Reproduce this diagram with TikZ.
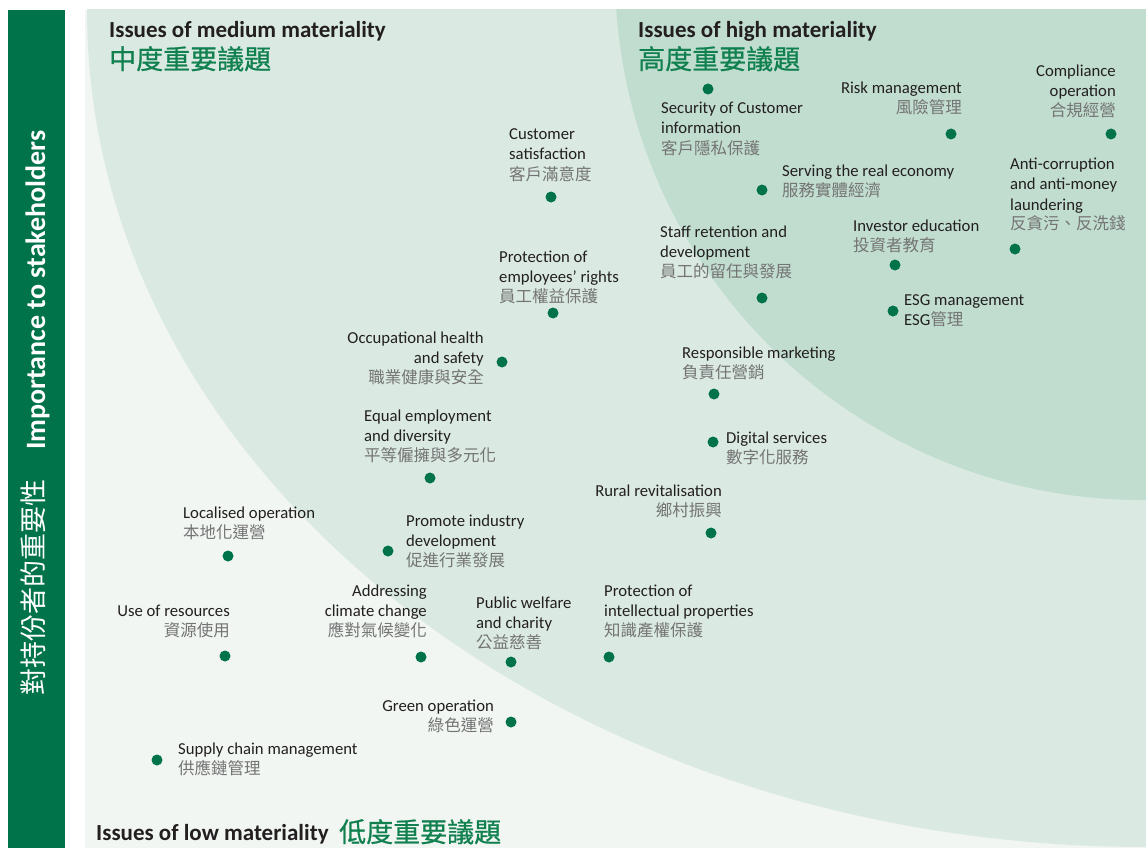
\documentclass[tikz,border=0pt]{standalone}
\usepackage{fontspec}
\setmainfont{Carlito}
\newfontfamily\cjk{Noto Sans CJK TC}
\newfontfamily\cjkhead[FakeBold=0.7]{Noto Sans CJK TC}
\definecolor{barg}{HTML}{00734A}
\definecolor{dotg}{HTML}{00734A}
\definecolor{headg}{HTML}{10804F}
\definecolor{basec}{HTML}{F1F6F2}
\definecolor{medc}{HTML}{DAEAE2}
\definecolor{highc}{HTML}{C1DDD0}
\definecolor{txt}{HTML}{231F20}
\definecolor{zhgray}{HTML}{747474}
\newcommand\zh[1]{{\cjk\fontsize{16.5}{20}\selectfont\color{zhgray}#1}}
\newcommand\tl[1]{\begin{tabular}[t]{@{}l@{}}#1\end{tabular}}
\newcommand\tr[1]{\begin{tabular}[t]{@{}r@{}}#1\end{tabular}}
\tikzset{
  lbl/.style={inner sep=0pt, font=\fontsize{16.7}{20}\selectfont, text=txt},
  lbll/.style={lbl, anchor=base west},
  lblr/.style={lbl, anchor=base east},
  issuedot/.style={circle, fill=dotg, minimum size=11pt, inner sep=0pt},
  headen/.style={inner sep=0pt, anchor=base west, text=txt, font=\bfseries\fontsize{23}{26}\selectfont},
  headzh/.style={inner sep=0pt, anchor=base west, text=headg, font=\cjkhead\fontsize{27}{30}\selectfont},
}
\begin{document}
\begin{tikzpicture}[x=1pt,y=-1pt]
\useasboundingbox (0,0) rectangle (1146,848);
\fill[white] (0,0) rectangle (1146,848);
% left bar
\fill[barg] (8,10) rectangle (65,848);
\node[rotate=90, anchor=base west, inner sep=0pt, text=white, font=\bfseries\fontsize{28}{32}\selectfont] (yen) at (45,450) {Importance to stakeholders};
\node[rotate=90, anchor=west, inner sep=0pt, text=white, font=\cjk\fontsize{27}{30}\selectfont] (yzh) at (33,696) {對持份者的重要性};
% panel
\fill[basec] (85,10) rectangle (1146,848);
\begin{scope}
\clip (85,10) rectangle (1146,848);
\fill[medc] (1146,10) ellipse [x radius=1059pt, y radius=837pt];
\fill[highc] (1142,-27) circle [radius=527pt];
\end{scope}
% headings
\node[headen] (hmed) at (109,38) {Issues of medium materiality};
\node[headzh] (hmedzh) at (109,69) {中度重要議題};
\node[headen] (hhigh) at (638,38) {Issues of high materiality};
\node[headzh] (hhighzh) at (638,69) {高度重要議題};
\node[headen] (hlow) at (96,840) {Issues of low materiality};
\node[headzh] (hlowzh) at (339,842) {低度重要議題};
% issues
\node[lbll] (l1) at (661,114) {\tl{Security of Customer\\information\\\zh{客戶隱私保護}}};
\node[issuedot] (d1) at (708,89) {};
\node[lblr] (l2) at (962,94) {\tr{Risk management\\\zh{風險管理}}};
\node[issuedot] (d2) at (951,134) {};
\node[lblr] (l3) at (1116,77) {\tr{Compliance\\operation\\\zh{合規經營}}};
\node[issuedot] (d3) at (1111,134) {};
\node[lbll] (l4) at (509,140) {\tl{Customer\\satisfaction\\\zh{客戶滿意度}}};
\node[issuedot] (d4) at (551,197) {};
\node[lbll] (l5) at (782,176) {\tl{Serving the real economy\\\zh{服務實體經濟}}};
\node[issuedot] (d5) at (762,190) {};
\node[lbll] (l6) at (1010,170) {\tl{Anti-corruption\\and anti-money\\laundering\\\zh{反貪污、反洗錢}}};
\node[issuedot] (d6) at (1015,249) {};
\node[lbll] (l7) at (660,237) {\tl{Staff retention and\\development\\\zh{員工的留任與發展}}};
\node[issuedot] (d7) at (762,298) {};
\node[lbll] (l8) at (853,231) {\tl{Investor education\\\zh{投資者教育}}};
\node[issuedot] (d8) at (895,265) {};
\node[lbll] (l9) at (499,262) {\tl{Protection of\\employees’ rights\\\zh{員工權益保護}}};
\node[issuedot] (d9) at (553,313) {};
\node[lbll] (l10) at (904,305) {\tl{ESG management\\ESG\zh{管理}}};
\node[issuedot] (d10) at (893,311) {};
\node[lblr] (l11) at (484,343) {\tr{Occupational health\\and safety\\\zh{職業健康與安全}}};
\node[issuedot] (d11) at (502,362) {};
\node[lbll] (l12) at (682,358) {\tl{Responsible marketing\\\zh{負責任營銷}}};
\node[issuedot] (d12) at (714,394) {};
\node[lbll] (l13) at (364,421) {\tl{Equal employment\\and diversity\\\zh{平等僱擁與多元化}}};
\node[issuedot] (d13) at (430,478) {};
\node[lbll] (l14) at (726,443) {\tl{Digital services\\\zh{數字化服務}}};
\node[issuedot] (d14) at (713,442) {};
\node[lblr] (l15) at (722,496) {\tr{Rural revitalisation\\\zh{鄉村振興}}};
\node[issuedot] (d15) at (711,533) {};
\node[lbll] (l16) at (183,518) {\tl{Localised operation\\\zh{本地化運營}}};
\node[issuedot] (d16) at (228,556) {};
\node[lbll] (l17) at (406,526) {\tl{Promote industry\\development\\\zh{促進行業發展}}};
\node[issuedot] (d17) at (388,551) {};
\node[lblr] (l18) at (230,616) {\tr{Use of resources\\\zh{資源使用}}};
\node[issuedot] (d18) at (225,656) {};
\node[lblr] (l19) at (427,596) {\tr{Addressing\\climate change\\\zh{應對氣候變化}}};
\node[issuedot] (d19) at (421,657) {};
\node[lbll] (l20) at (476,608) {\tl{Public welfare\\and charity\\\zh{公益慈善}}};
\node[issuedot] (d20) at (511,662) {};
\node[lbll] (l21) at (604,596) {\tl{Protection of\\intellectual properties\\\zh{知識產權保護}}};
\node[issuedot] (d21) at (609,657) {};
\node[lblr] (l22) at (494,711) {\tr{Green operation\\\zh{綠色運營}}};
\node[issuedot] (d22) at (511,722) {};
\node[lbll] (l23) at (178,754) {\tl{Supply chain management\\\zh{供應鏈管理}}};
\node[issuedot] (d23) at (157,760) {};
\end{tikzpicture}
\end{document}
